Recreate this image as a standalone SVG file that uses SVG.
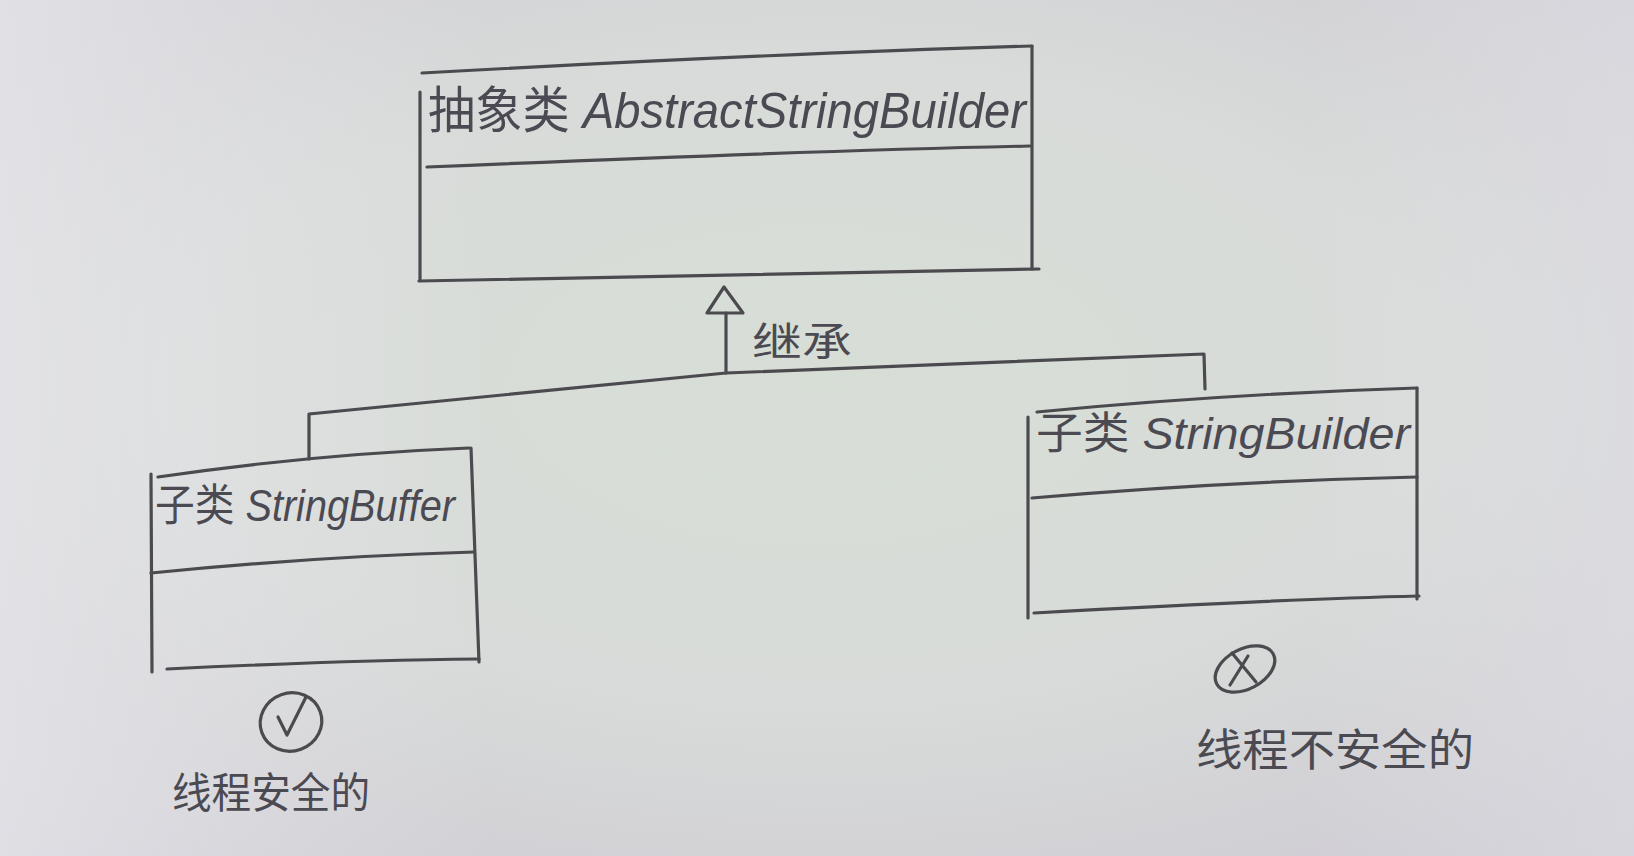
<svg xmlns="http://www.w3.org/2000/svg" width="1634" height="856" viewBox="0 0 1634 856">
<defs>
<radialGradient id="paper" cx="0.5" cy="0.45" r="0.75">
<stop offset="0" stop-color="#d7ded6"/>
<stop offset="0.5" stop-color="#d8dbd9"/>
<stop offset="1" stop-color="#cdc9d3"/>
</radialGradient>
<linearGradient id="light" x1="0" y1="0" x2="1" y2="0">
<stop offset="0" stop-color="#e8e8ec" stop-opacity="0.7"/>
<stop offset="0.3" stop-color="#e8e8ec" stop-opacity="0"/>
<stop offset="0.8" stop-color="#e8e8ec" stop-opacity="0"/>
<stop offset="1" stop-color="#e2e2e8" stop-opacity="0.5"/>
</linearGradient>
<style>
.ln{fill:none;stroke:#4b4b4f;stroke-width:3.2;stroke-linecap:round;stroke-linejoin:round}
.tx{font-family:"Liberation Sans","Noto Sans CJK SC",sans-serif;fill:#4b4a52}
.it{font-style:italic}
</style>
</defs>
<rect width="1634" height="856" fill="url(#paper)"/>
<rect width="1634" height="856" fill="url(#light)"/>

<g id="connectors">
<path class="ln" d="M309,459 L309,414 L726,373 L1204,354 L1205,389"/>
<path class="ln" d="M726,373 L726,313"/>
<path class="ln" d="M724,287 L743,313 L707,313 Z"/>
<text class="tx" x="752" y="356" font-size="40" textLength="100" lengthAdjust="spacingAndGlyphs">继承</text>
</g>

<g id="node-abstract">
<path class="ln" d="M422,73 C620,62 830,52 1032,46"/>
<path class="ln" d="M420,92 L420,279"/>
<path class="ln" d="M1032,46 L1032,269"/>
<path class="ln" d="M427,167 C640,158 840,150 1030,146"/>
<path class="ln" d="M419,281 C640,276 850,271 1039,269"/>
<text class="tx" x="428" y="128" font-size="50" textLength="598" lengthAdjust="spacingAndGlyphs">抽象类 <tspan class="it">AbstractStringBuilder</tspan></text>
</g>

<g id="node-stringbuffer">
<path class="ln" d="M158,477 C260,462 370,452 469,448"/>
<path class="ln" d="M151,474 L152,672"/>
<path class="ln" d="M471,448 L479,662"/>
<path class="ln" d="M151,573 C260,562 370,555 474,552"/>
<path class="ln" d="M167,669 C270,664 380,660 479,659"/>
<text class="tx" x="155" y="521" font-size="44" textLength="300" lengthAdjust="spacingAndGlyphs">子类 <tspan class="it">StringBuffer</tspan></text>
</g>

<g id="node-stringbuilder">
<path class="ln" d="M1037,412 C1160,400 1290,392 1417,388"/>
<path class="ln" d="M1028,417 L1028,618"/>
<path class="ln" d="M1417,388 L1417,599"/>
<path class="ln" d="M1032,498 C1160,487 1290,480 1417,477"/>
<path class="ln" d="M1034,613 C1160,606 1290,599 1419,596"/>
<text class="tx" x="1036" y="449" font-size="44" textLength="374" lengthAdjust="spacingAndGlyphs">子类 <tspan class="it">StringBuilder</tspan></text>
</g>

<g id="note-safe">
<ellipse class="ln" cx="291" cy="722" rx="31" ry="29" transform="rotate(-20 291 722)"/>
<path class="ln" d="M278,717 L287,735 L306,697"/>
<text class="tx" x="172" y="808" font-size="42" textLength="198" lengthAdjust="spacingAndGlyphs">线程安全的</text>
</g>

<g id="note-unsafe">
<ellipse class="ln" cx="1245" cy="669" rx="32" ry="20" transform="rotate(-28 1245 669)"/>
<path class="ln" d="M1232,653 L1256,682 M1248,656 L1230,685"/>
<text class="tx" x="1196" y="766" font-size="44" textLength="278" lengthAdjust="spacingAndGlyphs">线程不安全的</text>
</g>
</svg>
